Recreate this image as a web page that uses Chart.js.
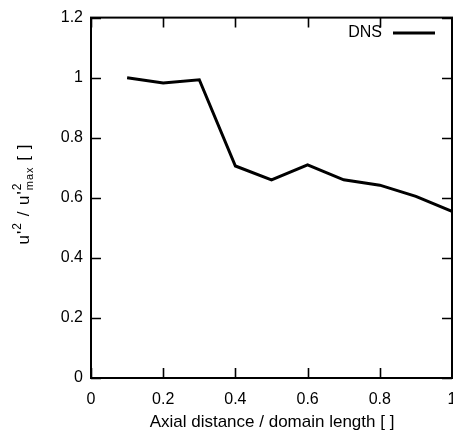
<!DOCTYPE html>
<html>
<head>
<meta charset="utf-8">
<script src="https://cdn.jsdelivr.net/npm/chart.js@4.4.1/dist/chart.umd.min.js"></script>
<style>
  html, body { margin: 0; padding: 0; background: #fff; overflow: hidden; }
  #wrap { position: relative; width: 470px; height: 434px; }
</style>
</head>
<body>
<div id="wrap"><canvas id="chart" width="470" height="434"></canvas></div>
<script>
// axial position (fraction of domain length) and normalised u'^2
const axialPos = [0.1, 0.2, 0.3, 0.4, 0.5, 0.6, 0.7, 0.8, 0.9, 1.0];
const dnsValues = [1.0, 0.982, 0.993, 0.706, 0.66, 0.71, 0.66, 0.642, 0.605, 0.555];
const xRange = [0, 1];
const yRange = [0, 1.2];
const tickStep = 0.2;

const FONT = '"Liberation Sans", Arial, sans-serif';

// gnuplot-style frame: full box with ticks pointing inwards on all sides
const framePlugin = {
    id: 'frame',
    afterDraw(chart) {
        const { ctx, chartArea: a, scales } = chart;
        const len = 10;
        ctx.save();
        ctx.strokeStyle = '#000';
        ctx.lineWidth = 1.6;
        ctx.beginPath();
        scales.x.ticks.forEach(t => {
            const px = Math.round(scales.x.getPixelForValue(t.value)) + 0.5;
            ctx.moveTo(px, a.bottom); ctx.lineTo(px, a.bottom - len);
            ctx.moveTo(px, a.top); ctx.lineTo(px, a.top + len);
        });
        scales.y.ticks.forEach(t => {
            const py = Math.round(scales.y.getPixelForValue(t.value)) + 0.5;
            ctx.moveTo(a.left, py); ctx.lineTo(a.left + len, py);
            ctx.moveTo(a.right, py); ctx.lineTo(a.right - len, py);
        });
        ctx.stroke();
        ctx.lineWidth = 2;
        ctx.strokeRect(a.left, a.top, a.right - a.left, a.bottom - a.top);

        // key in the top right corner
        const ds = chart.data.datasets[0];
        ctx.fillStyle = '#000';
        ctx.font = '16px ' + FONT;
        ctx.textAlign = 'right';
        ctx.textBaseline = 'middle';
        ctx.fillText(ds.label, 382, 33);
        ctx.lineWidth = 3;
        ctx.beginPath();
        ctx.moveTo(393, 33); ctx.lineTo(435, 33);
        ctx.stroke();

        // axis titles
        ctx.textAlign = 'center';
        ctx.textBaseline = 'alphabetic';
        ctx.font = '17px ' + FONT;
        ctx.fillText('Axial distance / domain length [ ]', 272, 427);

        ctx.translate(29, 194);
        ctx.rotate(-Math.PI / 2);
        ctx.letterSpacing = '1px';
        const parts = [
            ['u\'', 17, 0], ['2', 12, -8], [' / u\'', 17, 0], ['2', 12, -8],
            ['max', 11, 4], [' [ ]', 17, 0]
        ];
        const widths = parts.map(p => {
            ctx.font = p[1] + 'px ' + FONT;
            return ctx.measureText(p[0]).width;
        });
        // superscript and subscript share the same horizontal slot
        const slot = Math.max(widths[3], widths[4]);
        const total = widths[0] + widths[1] + widths[2] + slot + widths[5];
        let x = -total / 2;
        ctx.textAlign = 'left';
        parts.forEach((p, i) => {
            ctx.font = p[1] + 'px ' + FONT;
            ctx.fillText(p[0], x, p[2]);
            if (i === 3) return;
            x += i === 4 ? slot : widths[i];
        });
        ctx.restore();
    }
};

new Chart(document.getElementById('chart'), {
    type: 'line',
    data: {
        datasets: [{
            label: 'DNS',
            data: axialPos.map((x, i) => ({ x: x, y: dnsValues[i] })),
            borderColor: '#000',
            borderWidth: 3,
            pointRadius: 0,
            tension: 0,
            fill: false
        }]
    },
    options: {
        responsive: false,
        animation: false,
        layout: { padding: { left: 0, right: 18, top: 13, bottom: 0 } },
        plugins: {
            legend: { display: false },
            tooltip: { enabled: false }
        },
        scales: {
            x: {
                type: 'linear',
                min: xRange[0],
                max: xRange[1],
                grid: { display: false, drawTicks: false },
                border: { display: false },
                ticks: {
                    stepSize: tickStep,
                    color: '#000',
                    padding: 12,
                    maxRotation: 0,
                    font: { family: FONT, size: 16 },
                    callback: v => String(Math.round(v * 10) / 10)
                },
                afterFit(scale) { scale.height = 56; }
            },
            y: {
                min: yRange[0],
                max: yRange[1],
                grid: { display: false, drawTicks: false },
                border: { display: false },
                ticks: {
                    stepSize: tickStep,
                    color: '#000',
                    padding: 8,
                    font: { family: FONT, size: 16 },
                    callback: v => String(Math.round(v * 10) / 10)
                },
                afterFit(scale) { scale.width = 91; }
            }
        }
    },
    plugins: [framePlugin]
});
</script>
</body>
</html>
